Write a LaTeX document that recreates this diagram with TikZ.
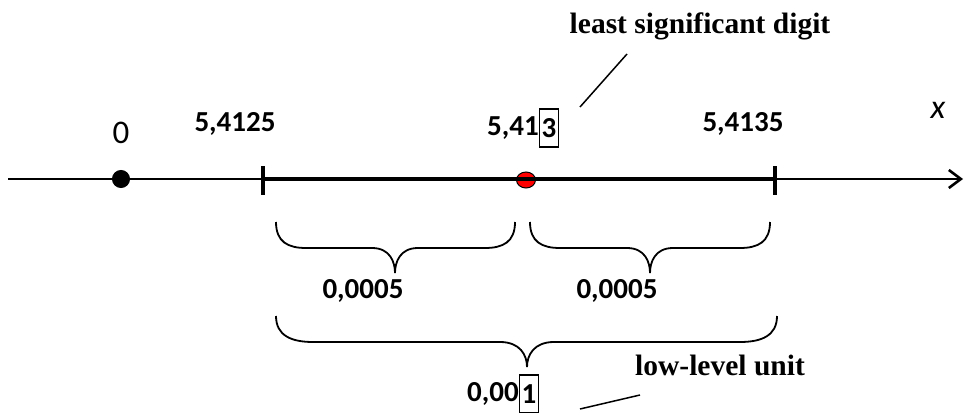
\documentclass[tikz,border=0pt]{standalone}
\usepackage{fontspec}
\setmainfont{Carlito}
\newfontfamily\tms{Liberation Serif}
\usetikzlibrary{arrows.meta,shapes.geometric}
\begin{document}
\begin{tikzpicture}[x=1pt,y=-1pt,
  lbl/.style={font=\fontsize{29}{32}\selectfont\bfseries, inner sep=0pt},
  boxd/.style={lbl, draw, line width=1.3pt, inner xsep=2pt, minimum height=38pt, anchor=west},
  note/.style={font=\tms\fontsize{29.5}{32}\selectfont\bfseries, inner sep=0pt},
  tickmark/.style={line width=3.2pt},
  bracepath/.style={line width=1.8pt},
  leader/.style={line width=1.5pt},
  dot/.style={draw=black, inner sep=0pt, line width=1pt}]
\useasboundingbox (0,0) rectangle (965,412);
% points on the axis
\coordinate (start) at (8,179);
\coordinate (end) at (963,179);
\coordinate (ta) at (263,179);
\coordinate (tb) at (775,179);
% dots
\node[dot, circle, fill=black, minimum size=17pt] (zero) at (121,179) {};
\node[dot, ellipse, fill=red, minimum width=19pt, minimum height=16pt] (mid) at (526,180) {};
% axis
\draw[line width=2.6pt, -{Straight Barb[length=12pt,width=18pt]}] (start) -- (end);
\draw[line width=4.2pt] (ta) -- (tb);
\draw[tickmark] (ta) ++(0,-13) -- ++(0,29);
\draw[tickmark] (tb) ++(0,-13) -- ++(0,29);
% labels over the axis
\node[font=\fontsize{33}{36}\selectfont, inner sep=0pt] (l0) at (121,133) {0};
\node[lbl] (l1) at (235,124) {5,4125};
\node[lbl, anchor=east] (l2) at (539,128) {5,41};
\node[boxd] (d3) at (l2.east) {3};
\node[lbl] (l3) at (743,124) {5,4135};
\node[font=\fontsize{34}{36}\selectfont\itshape, inner sep=0pt] (xl) at (938,110) {x};
% note: least significant digit
\node[note, anchor=base] (lsd) at (700,34) {least significant digit};
\coordinate (lsdA) at (627,54);
\coordinate (lsdB) at (580,107);
\draw[leader] (lsdA) -- (lsdB);
% small braces
\draw[bracepath] (276,222) .. controls (276,242) and (288,248) .. (306,248) -- (372,248)
  .. controls (390,248) and (395,262) .. (395,273)
  .. controls (395,262) and (400,248) .. (418,248) -- (485,248)
  .. controls (503,248) and (515,242) .. (515,222);
\draw[bracepath] (530,222) .. controls (530,242) and (542,248) .. (560,248) -- (627,248)
  .. controls (645,248) and (650,262) .. (650,273)
  .. controls (650,262) and (655,248) .. (673,248) -- (740,248)
  .. controls (758,248) and (770,242) .. (770,222);
\node[lbl] (h1) at (363,291) {0,0005};
\node[lbl] (h2) at (617,291) {0,0005};
% big brace
\draw[bracepath] (276,316) .. controls (276,336) and (292,342) .. (313,342) -- (500,342)
  .. controls (520,342) and (527,355) .. (527,367)
  .. controls (527,355) and (534,342) .. (554,342) -- (740,342)
  .. controls (761,342) and (777,336) .. (777,316);
\node[lbl, anchor=east] (u1) at (519,394) {0,00};
\node[boxd] (d1) at (u1.east) {1};
% note: low-level unit
\node[note, anchor=base] (llu) at (720,375) {low-level unit};
\coordinate (lluA) at (640,395);
\coordinate (lluB) at (580,409);
\draw[leader] (lluA) -- (lluB);
\end{tikzpicture}
\end{document}
